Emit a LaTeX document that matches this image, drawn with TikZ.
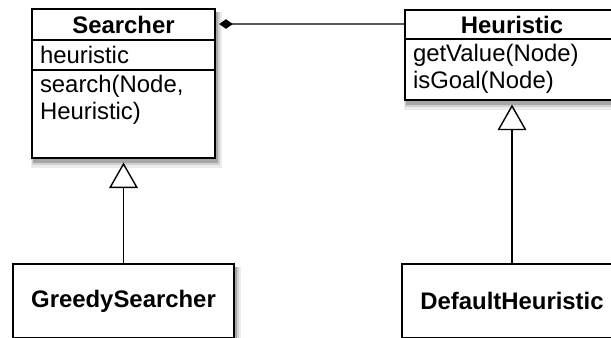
\documentclass[tikz,border=0pt]{standalone}
\usepackage{fontspec}
\setmainfont{Liberation Sans}
\usetikzlibrary{arrows.meta,shapes.multipart,backgrounds,calc}

\begin{document}
\begin{tikzpicture}[
  every node/.style={font=\fontsize{17}{19.2}\selectfont},
  umlclass/.style={draw, line width=1.4pt, fill=white, rectangle split, inner xsep=0.2cm, inner ysep=0pt},
  umlleaf/.style={draw, line width=1.4pt, fill=white, minimum height=1.85cm},
  inherit/.style={-{Triangle[open, length=0.64cm, width=0.72cm]}, line width=1pt, shorten >=0.09cm},
  owns/.style={{Diamond[length=0.34cm, width=0.24cm]}-, line width=1pt, shorten <=0.08cm}
]
\useasboundingbox (0,0) rectangle (15.275,-8.425);

\node[umlclass, rectangle split parts=3] (searcher) at (3.0875,-2.0875)
  {\parbox[c][0.725cm][c]{4.175cm}{\centering\textbf{Searcher}}
   \nodepart{two}\parbox[c][0.7cm][c]{4.175cm}{heuristic}
   \nodepart{three}\parbox[c][2.15cm][t]{4.175cm}{\vspace{0.1cm}search(Node,\\Heuristic)}};
\node[umlclass, rectangle split parts=2] (heuristic) at (12.8,-1.375)
  {\parbox[c][0.675cm][c]{4.95cm}{\centering\textbf{Heuristic}}
   \nodepart{two}\parbox[c][1.475cm][t]{4.95cm}{\vspace{0.1cm}getValue(Node)\\isGoal(Node)}};

\node[umlleaf, minimum width=5.525cm] (greedy) at (3.0875,-7.525) {\textbf{GreedySearcher}};
\node[umlleaf, minimum width=5.5cm] (default) at (12.8,-7.525) {\textbf{DefaultHeuristic}};

% soft shadows behind the boxes
\begin{scope}[on background layer]
  \foreach \n in {searcher,heuristic,greedy,default} {
    \fill[black!8] ([xshift=0.01cm,yshift=-0.22cm]\n.south west) rectangle ([xshift=0.14cm,yshift=-0.1cm]\n.north east);
    \fill[black!18] ([xshift=0.03cm,yshift=-0.16cm]\n.south west) rectangle ([xshift=0.1cm,yshift=-0.1cm]\n.north east);
    \fill[black!35] ([xshift=0.05cm,yshift=-0.1cm]\n.south west) rectangle ([xshift=0.06cm,yshift=-0.1cm]\n.north east);
  }
\end{scope}

\draw[inherit] (greedy) -- (searcher);
\draw[inherit] (default) -- (heuristic);
\draw[owns] ($(searcher.north east)!0.5!(searcher.text split east)$) -- ($(heuristic.north west)!0.5!(heuristic.text split west)$);
\end{tikzpicture}
\end{document}
